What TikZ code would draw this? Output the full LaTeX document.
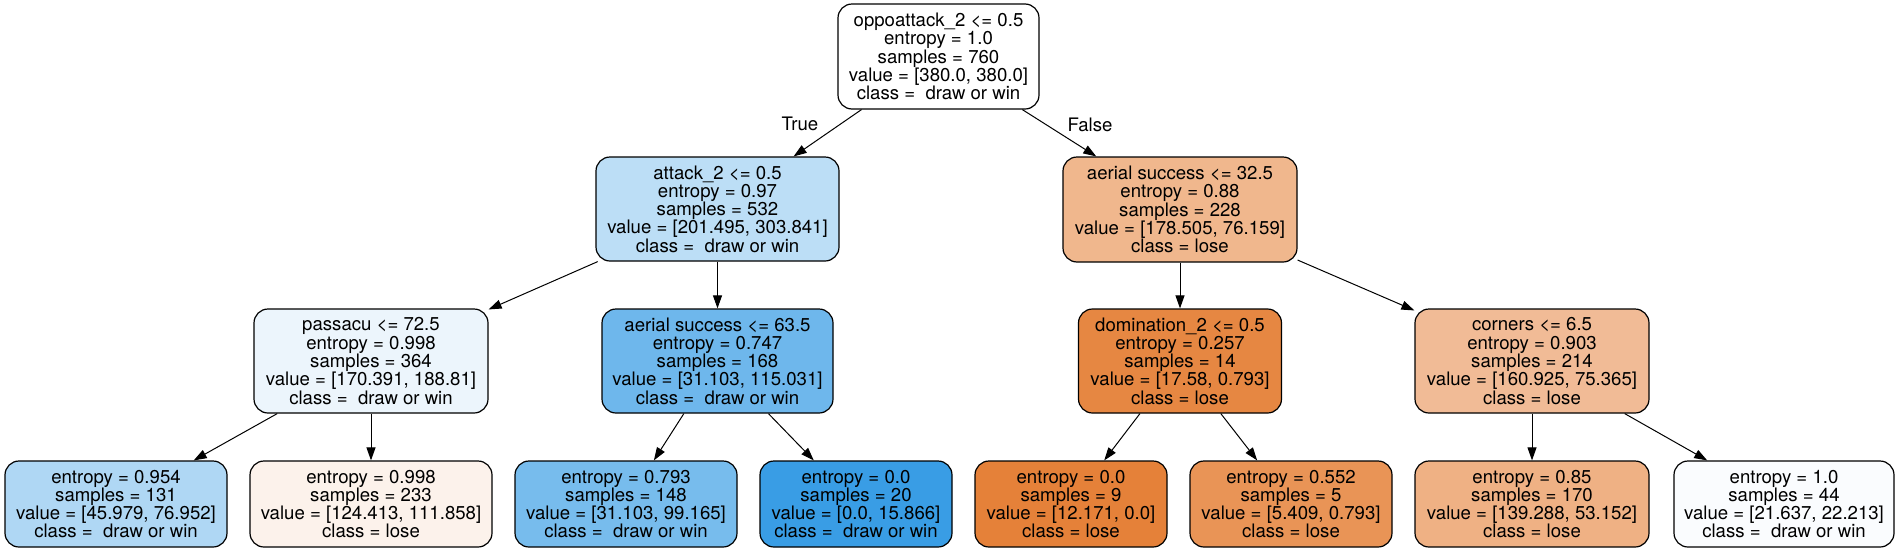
\documentclass[tikz,border=0pt]{standalone}
\usepackage{fontspec}
\setmainfont{TeX Gyre Heros}
\usetikzlibrary{arrows.meta}
\definecolor{c1}{HTML}{FFFFFF}
\definecolor{c2}{HTML}{BCDEF6}
\definecolor{c3}{HTML}{F0B78D}
\definecolor{c4}{HTML}{ECF5FC}
\definecolor{c5}{HTML}{6EB7EC}
\definecolor{c6}{HTML}{E68742}
\definecolor{c7}{HTML}{F1BB96}
\definecolor{l1}{HTML}{AFD7F4}
\definecolor{l2}{HTML}{FCF2EB}
\definecolor{l3}{HTML}{77BCED}
\definecolor{l4}{HTML}{399DE5}
\definecolor{l5}{HTML}{E58139}
\definecolor{l6}{HTML}{E99456}
\definecolor{l7}{HTML}{EFB184}
\definecolor{l8}{HTML}{FAFCFE}
\tikzset{
  tn/.style={draw=black, line width=1.2pt, rounded corners=14pt, align=center,
    inner sep=0pt, font=\fontsize{18.6}{18.3}\selectfont},
  inner/.style={tn, minimum height=104pt},
  leaf/.style={tn, minimum height=86pt},
  edge/.style={draw=black, line width=1pt, -{Triangle[length=13pt,width=9pt]}},
  elabel/.style={font=\fontsize{18.6}{18.3}\selectfont, inner sep=0pt}
}
\begin{document}
\begin{tikzpicture}[x=1pt,y=-1pt]
\useasboundingbox (0,0) rectangle (1901,552);
% level 0
\node[inner, fill=c1, minimum width=201pt, minimum height=105pt] (n1) at (938.5,56.5)
  {oppoattack\_2 <= 0.5\\entropy = 1.0\\samples = 760\\value = [380.0, 380.0]\\class = \ draw or win};
% level 1
\node[inner, fill=c2, minimum width=243pt] (n2) at (717.5,209)
  {attack\_2 <= 0.5\\entropy = 0.97\\samples = 532\\value = [201.495, 303.841]\\class = \ draw or win};
\node[inner, fill=c3, minimum width=234pt, minimum height=105pt] (n3) at (1180,209.5)
  {aerial success <= 32.5\\entropy = 0.88\\samples = 228\\value = [178.505, 76.159]\\class = lose};
% level 2
\node[inner, fill=c4, minimum width=234pt] (n4) at (371,361)
  {passacu <= 72.5\\entropy = 0.998\\samples = 364\\value = [170.391, 188.81]\\class = \ draw or win};
\node[inner, fill=c5, minimum width=231pt] (n5) at (717.5,361)
  {aerial success <= 63.5\\entropy = 0.747\\samples = 168\\value = [31.103, 115.031]\\class = \ draw or win};
\node[inner, fill=c6, minimum width=203pt] (n6) at (1180,361)
  {domination\_2 <= 0.5\\entropy = 0.257\\samples = 14\\value = [17.58, 0.793]\\class = lose};
\node[inner, fill=c7, minimum width=234pt] (n7) at (1532,361)
  {corners <= 6.5\\entropy = 0.903\\samples = 214\\value = [160.925, 75.365]\\class = lose};
% leaves
\node[leaf, fill=l1, minimum width=222pt] (m1) at (116,504)
  {entropy = 0.954\\samples = 131\\value = [45.979, 76.952]\\class = \ draw or win};
\node[leaf, fill=l2, minimum width=242pt] (m2) at (371,504)
  {entropy = 0.998\\samples = 233\\value = [124.413, 111.858]\\class = lose};
\node[leaf, fill=l3, minimum width=222pt] (m3) at (626,504)
  {entropy = 0.793\\samples = 148\\value = [31.103, 99.165]\\class = \ draw or win};
\node[leaf, fill=l4, minimum width=192pt] (m4) at (856,504)
  {entropy = 0.0\\samples = 20\\value = [0.0, 15.866]\\class = \ draw or win};
\node[leaf, fill=l5, minimum width=192pt] (m5) at (1071,504)
  {entropy = 0.0\\samples = 9\\value = [12.171, 0.0]\\class = lose};
\node[leaf, fill=l6, minimum width=202pt] (m6) at (1291,504)
  {entropy = 0.552\\samples = 5\\value = [5.409, 0.793]\\class = lose};
\node[leaf, fill=l7, minimum width=234pt] (m7) at (1532,504)
  {entropy = 0.85\\samples = 170\\value = [139.288, 53.152]\\class = lose};
\node[leaf, fill=l8, minimum width=220pt] (m8) at (1784,504)
  {entropy = 1.0\\samples = 44\\value = [21.637, 22.213]\\class = \ draw or win};
% edges
\draw[edge] (n1) -- (n2);
\draw[edge] (n1) -- (n3);
\draw[edge] (n2) -- (n4);
\draw[edge] (n2) -- (n5);
\draw[edge] (n3) -- (n6);
\draw[edge] (n3) -- (n7);
\draw[edge] (n4) -- (m1);
\draw[edge] (n4) -- (m2);
\draw[edge] (n5) -- (m3);
\draw[edge] (n5) -- (m4);
\draw[edge] (n6) -- (m5);
\draw[edge] (n6) -- (m6);
\draw[edge] (n7) -- (m7);
\draw[edge] (n7) -- (m8);
% edge labels
\node[elabel] (tl) at (800,124) {True};
\node[elabel] (fl) at (1090,125) {False};
\end{tikzpicture}
\end{document}
